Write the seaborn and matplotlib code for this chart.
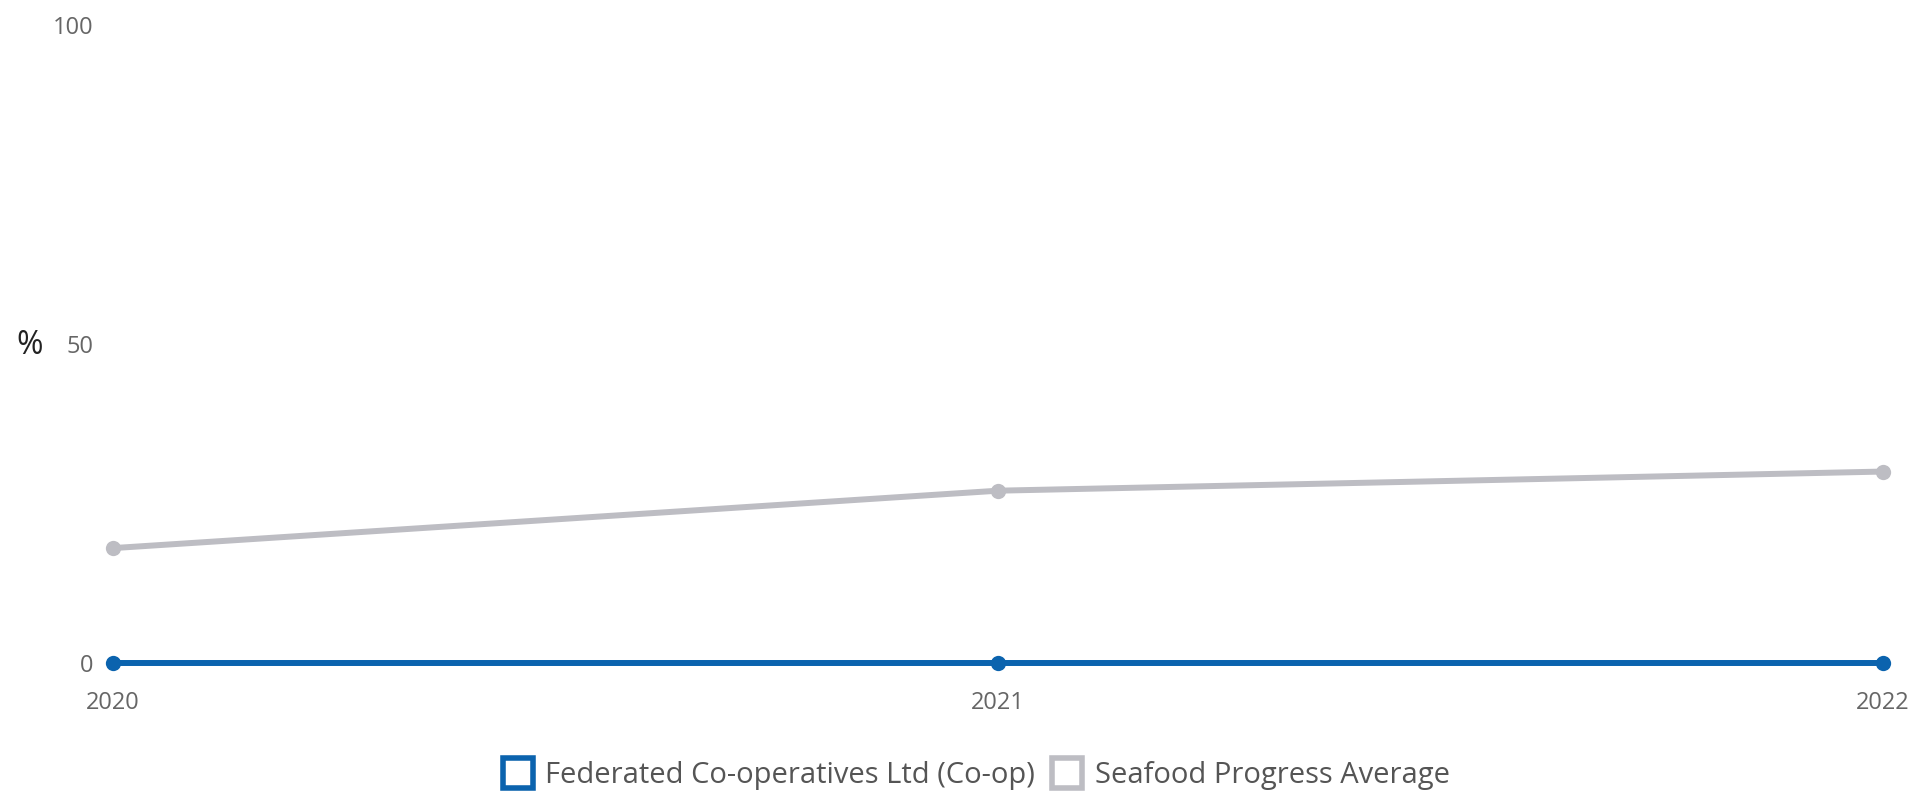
import matplotlib
matplotlib.use("Agg")
import matplotlib.pyplot as plt
import seaborn as sns
import pandas as pd
from matplotlib.lines import Line2D
from matplotlib import font_manager

years = [2020, 2021, 2022]
coop_values = [0, 0, 0]
avg_values = [18, 27, 30]
series_names = ["Federated Co-operatives Ltd (Co-op)", "Seafood Progress Average"]
colors = ["#0b63ae", "#bdbdc3"]
y_ticks = [0, 50, 100]

df = pd.DataFrame({
    "year": years * 2,
    "value": coop_values + avg_values,
    "series": [series_names[0]] * 3 + [series_names[1]] * 3,
})

sns.set_theme(style="white")
plt.rcParams['font.family'] = ['Open Sans', 'DejaVu Sans']

names = {f.name for f in font_manager.fontManager.ttflist}
narrow = "Liberation Sans Narrow" in names

fig = plt.figure(figsize=(19.3, 7.93), dpi=100)
ax = fig.add_axes([0.0585, 0.164, 0.9171, 0.8045])

palette = {series_names[0]: colors[0], series_names[1]: colors[1]}
sns.lineplot(data=df, x="year", y="value", hue="series", hue_order=series_names[::-1],
             palette=palette, marker="o", markersize=11, markeredgewidth=0,
             linewidth=4.3, ax=ax, legend=False)
for ln in ax.lines:
    ln.set_clip_on(False)

ax.set_xlim(years[0], years[-1])
ax.set_ylim(0, 100)
ax.set_yticks(y_ticks)
ax.set_xticks(years)
ax.set_xticklabels([str(y) for y in years])
ax.tick_params(axis="y", length=0, pad=14, labelsize=17, labelcolor="#666666")
ax.tick_params(axis="x", length=0, pad=20, labelsize=17, labelcolor="#666666")
for s in ax.spines.values():
    s.set_visible(False)
ax.set_xlabel("")
ax.set_ylabel("%", rotation=0, fontsize=23, color="#222222", va="center", ha="center")
ax.yaxis.set_label_coords(-0.047, 0.498)

handles = [Line2D([], [], linestyle="none", marker="s", markersize=21,
                  markerfacecolor="white", markeredgecolor=c, markeredgewidth=4)
           for c in colors]
if narrow:
    prop = {"family": "Liberation Sans Narrow", "size": 24}
else:
    prop = {"family": "Open Sans", "size": 21}
fig.legend(handles, series_names, loc="center", bbox_to_anchor=(0.506, 0.022),
           ncol=2, frameon=False, prop=prop, handlelength=1.0, handletextpad=0.45,
           columnspacing=0.6, labelcolor="#555555")

fig.savefig("out.png", dpi=100)
